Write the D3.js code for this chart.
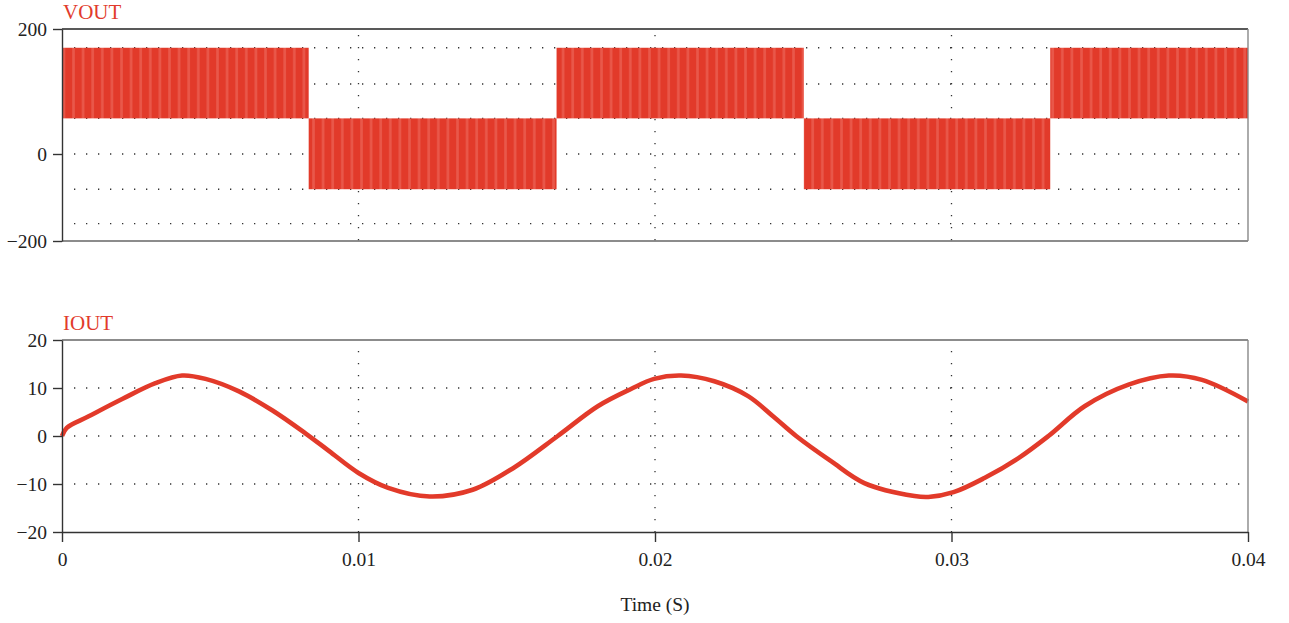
<!DOCTYPE html>
<html>
<head>
<meta charset="utf-8">
<script src="https://cdn.jsdelivr.net/npm/d3@7"></script>
<style>
    body { margin: 0; background: #fff; }
    .axis text { font-family: "Liberation Serif", "DejaVu Serif", serif; font-size: 19.5px; fill: #222; }
    .axis path, .axis line { stroke: #333; stroke-width: 1.4; }
    .grid line { stroke: #333; stroke-width: 1.3; stroke-dasharray: 1.3 10.7; }
    .label { font-family: "Liberation Serif", serif; font-size: 21px; fill: #e23b2c; }
    .xlabel { font-family: "Liberation Serif", serif; font-size: 19.5px; fill: #222; }
</style>
</head>
<body>
<div id="chart"></div>
<script>
// time axis
let timeTicks = [0, 0.01, 0.02, 0.03, 0.04];
let timeGrid = [0.01, 0.02, 0.03];

// VOUT: half-cycle blocks of the PWM output (start, end, upper level, lower level)
let vStart = [0, 0.00832, 0.01668, 0.02502, 0.03333];
let vEnd = [0.00832, 0.01668, 0.02502, 0.03333, 0.04];
let vUpper = [170, 57, 170, 57, 170];
let vLower = [57, -81, 57, -81, 57];
let vTicks = [200, 0, -200];
let vGrid = [170, 112, 57, 0, -81, -160];

// IOUT: load current
let iTime = [0, 0.00016, 0.0009, 0.00203, 0.00315, 0.00405, 0.00484, 0.00597, 0.0071, 0.00822, 0.0090,
    0.01, 0.0110, 0.0124, 0.01385, 0.01524, 0.01672, 0.01807, 0.01919, 0.01997, 0.02088,
    0.022, 0.02314, 0.0240, 0.02476, 0.02595, 0.02706, 0.02875, 0.02922, 0.03007, 0.03111, 0.03226,
    0.03327, 0.03449, 0.03597, 0.03733, 0.03845, 0.04];
let iValue = [0, 1.7, 4.1, 7.7, 11.0, 12.6, 11.9, 9.3, 5.3, 0.5, -3.1,
    -7.7, -10.8, -12.6, -11.2, -6.6, 0, 6.2, 9.8, 11.9, 12.6,
    11.4, 8.3, 4.0, 0, -5.3, -9.8, -12.5, -12.7, -11.7, -8.75, -4.6,
    0, 6.2, 10.7, 12.6, 11.7, 7.2];
let iTicks = [20, 10, 0, -10, -20];
let iGrid = [10, 0, -10];

let width = 1289, height = 623;
let red = "#e23a2a";

let svg = d3.select("#chart").append("svg")
    .attr("width", width)
    .attr("height", height);

// striped fill for the dense switching band
let defs = svg.append("defs");
let pat = defs.append("pattern")
    .attr("id", "stripes")
    .attr("patternUnits", "userSpaceOnUse")
    .attr("width", 9.6)
    .attr("height", 10);
pat.append("rect").attr("width", 9.6).attr("height", 10).attr("fill", red);
pat.append("rect").attr("x", 5).attr("width", 2.6).attr("height", 10).attr("fill", "#e9584a");

let x = d3.scaleLinear().domain([0, 0.04]).range([62, 1248]);
let yV = d3.scaleLinear().domain([-200, 0, 200]).range([241, 154, 29]);
let yI = d3.scaleLinear().domain([-20, 20]).range([532, 340]);

// ---------- top panel: VOUT ----------
let vPanel = svg.append("g");

vPanel.append("g").attr("class", "grid")
    .selectAll("line").data(vGrid).enter().append("line")
    .attr("x1", x(0) + 12).attr("x2", x(0.04) - 6)
    .attr("y1", d => yV(d)).attr("y2", d => yV(d));

vPanel.append("g").attr("class", "grid")
    .selectAll("line").data(timeGrid).enter().append("line")
    .attr("x1", d => x(d)).attr("x2", d => x(d))
    .attr("y1", yV(200) + 6).attr("y2", yV(-200));

vPanel.selectAll(".vblock").data(vStart).enter().append("rect")
    .attr("class", "vblock")
    .attr("x", d => x(d))
    .attr("width", (d, i) => x(vEnd[i]) - x(d))
    .attr("y", (d, i) => yV(vUpper[i]))
    .attr("height", (d, i) => yV(vLower[i]) - yV(vUpper[i]))
    .attr("fill", "url(#stripes)");

// frame
vPanel.append("line").attr("x1", x(0)).attr("x2", x(0.04)).attr("y1", yV(200)).attr("y2", yV(200))
    .attr("stroke", "#222").attr("stroke-width", 1.6);
vPanel.append("line").attr("x1", x(0)).attr("x2", x(0.04)).attr("y1", yV(-200)).attr("y2", yV(-200))
    .attr("stroke", "#666").attr("stroke-width", 1.4);
vPanel.append("line").attr("x1", x(0.04)).attr("x2", x(0.04)).attr("y1", yV(200)).attr("y2", yV(-200))
    .attr("stroke", "#888").attr("stroke-width", 1.4);

vPanel.append("g").attr("class", "axis")
    .attr("transform", "translate(" + x(0) + ",0)")
    .call(d3.axisLeft(yV).tickValues(vTicks).tickSize(9).tickSizeOuter(0).tickPadding(6));

vPanel.append("text").attr("class", "label")
    .attr("x", x(0) + 1).attr("y", 19)
    .text("VOUT");

// ---------- bottom panel: IOUT ----------
let iPanel = svg.append("g");

iPanel.append("g").attr("class", "grid")
    .selectAll("line").data(iGrid).enter().append("line")
    .attr("x1", x(0) + 12).attr("x2", x(0.04) - 6)
    .attr("y1", d => yI(d)).attr("y2", d => yI(d));

iPanel.append("g").attr("class", "grid")
    .selectAll("line").data(timeGrid).enter().append("line")
    .attr("x1", d => x(d)).attr("x2", d => x(d))
    .attr("y1", yI(20) + 11).attr("y2", yI(-20));

let iLine = d3.line()
    .x((d, i) => x(iTime[i]))
    .y(d => yI(d))
    .curve(d3.curveCatmullRom.alpha(0.5));

iPanel.append("path")
    .datum(iValue)
    .attr("d", iLine)
    .attr("fill", "none")
    .attr("stroke", red)
    .attr("stroke-width", 4.6)
    .attr("stroke-linejoin", "round");

iPanel.append("line").attr("x1", x(0)).attr("x2", x(0.04)).attr("y1", yI(20)).attr("y2", yI(20))
    .attr("stroke", "#666").attr("stroke-width", 1.4);
iPanel.append("line").attr("x1", x(0.04)).attr("x2", x(0.04)).attr("y1", yI(20)).attr("y2", yI(-20))
    .attr("stroke", "#888").attr("stroke-width", 1.4);

iPanel.append("g").attr("class", "axis")
    .attr("transform", "translate(" + x(0) + ",0)")
    .call(d3.axisLeft(yI).tickValues(iTicks).tickSize(9).tickSizeOuter(0).tickPadding(6));

iPanel.append("g").attr("class", "axis")
    .attr("transform", "translate(0," + yI(-20) + ")")
    .call(d3.axisBottom(x).tickValues(timeTicks).tickSize(10).tickSizeOuter(0).tickPadding(10)
        .tickFormat(d => d === 0 ? "0" : d3.format(".2f")(d)));

iPanel.append("text").attr("class", "label")
    .attr("x", x(0) + 1).attr("y", 330)
    .text("IOUT");

svg.append("text").attr("class", "xlabel")
    .attr("x", 655).attr("y", 611)
    .attr("text-anchor", "middle")
    .text("Time (S)");
</script>
</body>
</html>
